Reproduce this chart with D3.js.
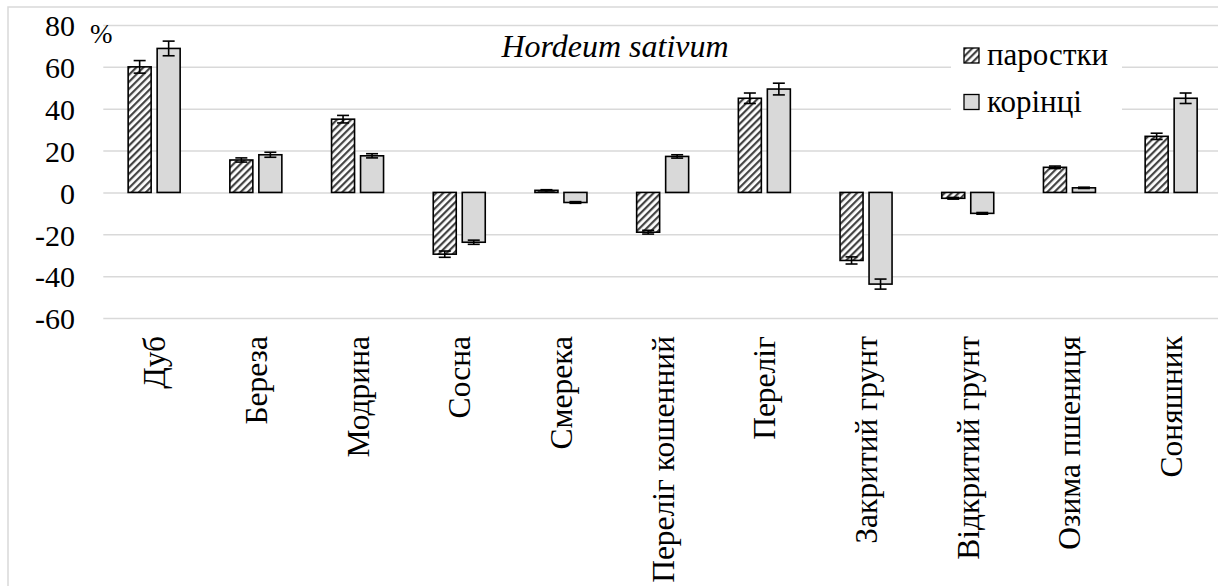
<!DOCTYPE html>
<html><head><meta charset="utf-8">
<script src="https://cdn.jsdelivr.net/npm/d3@7/dist/d3.min.js"></script>
<style>
body{margin:0;background:#fff;}
</style></head>
<body>
<svg id="chart" width="1218" height="586"></svg>
<script>
const categories = ["Дуб","Береза","Модрина","Сосна","Смерека","Переліг кошенний","Переліг","Закритий грунт","Відкритий грунт","Озима пшениця","Соняшник"];
const seriesNames = ["паростки","корінці"];
const sprouts = [60, 15.5, 35, -29.5, 1, -19, 45, -32.5, -2.8, 12, 26.8];
const sproutsErr = [3, 1, 1.8, 1.5, 0.3, 0.9, 2.5, 1.7, 0.4, 0.6, 1.5];
const roots = [68.8, 18, 17.5, -23.8, -4.8, 17.2, 49.4, -43.8, -10, 2.2, 45];
const rootsErr = [3.5, 1.2, 1, 1, 0.4, 0.8, 2.8, 2.4, 0.4, 0.3, 2.5];
const yTicks = [-60,-40,-20,0,20,40,60,80];
const title = "Hordeum sativum";
const unitLabel = "%";

const FONT = '"Liberation Serif","Tinos","Noto Serif","DejaVu Serif","Liberation Sans",serif';
const svg = d3.select("#chart").attr("font-family",FONT);
const FS = 30;

// outer border
svg.append("rect").attr("x",8).attr("y",7).attr("width",1230).attr("height",600)
  .attr("fill","none").attr("stroke","#d9d9d9").attr("stroke-width",1.5);

const defs = svg.append("defs");
const pat = defs.append("pattern").attr("id","hatch").attr("patternUnits","userSpaceOnUse")
  .attr("width",5).attr("height",5).attr("patternTransform","rotate(45)");
pat.append("rect").attr("width",5).attr("height",5).attr("fill","#ffffff");
pat.append("rect").attr("x",0).attr("width",2.2).attr("height",5).attr("fill","#444444");

const y = d3.scaleLinear().domain([-60,80]).range([318,25]);
const x0 = d3.scaleBand().domain(categories).range([103.3,1222]).padding(0);
const groupW = 52;
const x1 = d3.scaleBand().domain(seriesNames)
  .range([(x0.bandwidth()-groupW)/2,(x0.bandwidth()+groupW)/2]).paddingInner(0.207).paddingOuter(0);

// gridlines via axis
const gAxis = svg.append("g").attr("transform","translate(103.3,0)")
  .call(d3.axisRight(y).tickValues(yTicks).tickSize(1130).tickFormat(""));
gAxis.select(".domain").remove();
gAxis.selectAll(".tick line").attr("stroke","#d9d9d9").attr("stroke-width",1.5);

// y tick labels
const yl = svg.append("g").attr("transform","translate(75,0)")
  .call(d3.axisLeft(y).tickValues(yTicks).tickSize(0).tickPadding(0).tickFormat(d=>d));
yl.attr("font-family",FONT);
yl.select(".domain").remove();
yl.selectAll("text").attr("font-size",FS).attr("fill","#000").attr("dy","0.36em");

// legend background
svg.append("rect").attr("x",951).attr("y",36).attr("width",171).attr("height",88).attr("fill","#fff");

const data = categories.map((c,i)=>({c, vals:[
  {s:seriesNames[0], v:sprouts[i], e:sproutsErr[i]},
  {s:seriesNames[1], v:roots[i], e:rootsErr[i]}]}));
const fills = {"паростки":"url(#hatch)","корінці":"#d9d9d9"};

const groups = svg.append("g").selectAll("g").data(data).join("g")
  .attr("transform",d=>`translate(${x0(d.c)},0)`);
groups.selectAll("rect").data(d=>d.vals).join("rect")
  .attr("x",d=>x1(d.s)).attr("width",x1.bandwidth())
  .attr("y",d=>y(Math.max(0,d.v))).attr("height",d=>Math.abs(y(d.v)-y(0)))
  .attr("fill",d=>fills[d.s]).attr("stroke","#000").attr("stroke-width",1.6);

// error bars
const eb = groups.selectAll("g.err").data(d=>d.vals).join("g").attr("class","err");
eb.append("line").attr("x1",d=>x1(d.s)+x1.bandwidth()/2).attr("x2",d=>x1(d.s)+x1.bandwidth()/2)
  .attr("y1",d=>y(d.v-d.e)).attr("y2",d=>y(d.v+d.e)).attr("stroke","#000").attr("stroke-width",1.6);
eb.selectAll("line.cap").data(d=>[{d,v:d.v-d.e},{d,v:d.v+d.e}]).join("line").attr("class","cap")
  .attr("x1",k=>x1(k.d.s)+x1.bandwidth()/2-6).attr("x2",k=>x1(k.d.s)+x1.bandwidth()/2+6)
  .attr("y1",k=>y(k.v)).attr("y2",k=>y(k.v)).attr("stroke","#000").attr("stroke-width",1.6);

// category labels
svg.append("g").selectAll("text").data(categories).join("text")
  .attr("transform",d=>`translate(${x0(d)+x0.bandwidth()/2},336) rotate(-90)`)
  .attr("text-anchor","end").attr("dy","0.35em").attr("font-size",31.5).text(d=>d);

// title
svg.append("text").attr("x",615).attr("y",57).attr("text-anchor","middle")
  .attr("font-size",32).attr("font-style","italic").text(title);
// unit
svg.append("text").attr("x",90).attr("y",43).attr("font-size",27).text(unitLabel);

// legend
const leg = svg.append("g").selectAll("g").data(seriesNames).join("g")
  .attr("transform",(d,i)=>`translate(964,${48+i*46.5})`);
leg.append("rect").attr("width",15).attr("height",15).attr("fill",d=>fills[d]).attr("stroke","#000").attr("stroke-width",1.3);
leg.append("text").attr("x",23).attr("y",17).attr("font-size",31).text(d=>d);
</script>
</body></html>
